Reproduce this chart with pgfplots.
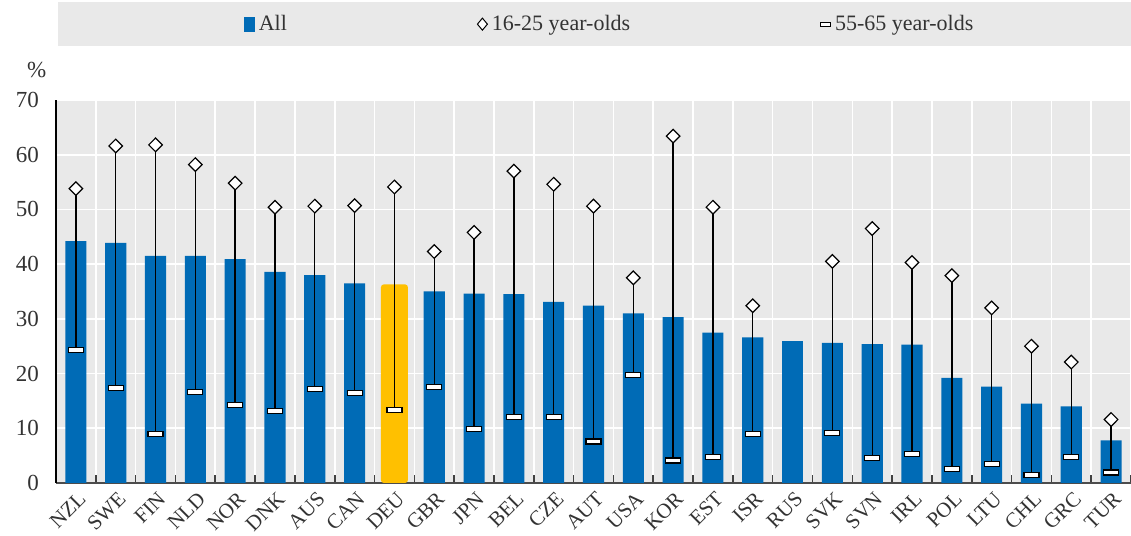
\documentclass[border=0pt]{standalone}
\usepackage{fontspec}
\setmainfont{Liberation Serif}
\usepackage{pgfplots}
\usepackage{pgfplotstable}
\pgfplotsset{compat=1.18}
\definecolor{oblue}{HTML}{006BB6}
\definecolor{oyellow}{HTML}{FFC000}
\definecolor{obg}{HTML}{E9E9E9}
\definecolor{otext}{HTML}{333333}

\pgfplotstableread{
x all hi lo
0 44.2 53.8 24.3
1 43.9 61.6 17.4
2 41.5 61.8 9.0
3 41.5 58.2 16.7
4 40.9 54.8 14.3
5 38.6 50.4 13.2
6 38.0 50.6 17.2
7 36.5 50.7 16.5
9 35.0 42.3 17.6
10 34.6 45.8 9.9
11 34.5 57.0 12.1
12 33.1 54.6 12.1
13 32.4 50.6 7.6
14 31.0 37.5 19.7
15 30.3 63.4 4.1
16 27.5 50.4 4.8
17 26.6 32.4 9.0
19 25.6 40.5 9.2
20 25.4 46.5 4.6
21 25.3 40.3 5.3
22 19.2 37.9 2.5
23 17.6 32.0 3.5
24 14.5 25.0 1.5
25 14.0 22.1 4.8
26 7.8 11.6 1.9
}\datatab

\pgfplotstableread{
x all
18 25.9
}\rustab

\pgfplotstableread{
x all hi lo
8 36.3 54.1 13.4
}\deutab

\begin{document}
\begin{tikzpicture}
\begin{axis}[
  scale only axis,
  width=537.5pt, height=191.5pt,
  xmin=-0.5, xmax=26.5,
  ymin=0, ymax=70,
  ytick={0,10,...,70},
  xtick={0,...,26},
  xticklabels={NZL,SWE,FIN,NLD,NOR,DNK,AUS,CAN,DEU,GBR,JPN,BEL,CZE,AUT,USA,KOR,EST,ISR,RUS,SVK,SVN,IRL,POL,LTU,CHL,GRC,TUR},
  minor xtick={-0.5,0.5,...,26.5},
  x tick label style={rotate=45, anchor=north east, font=\fontsize{10.5}{12}\selectfont, text=otext, inner sep=1pt, xshift=-1pt, yshift=-2pt},
  y tick label style={font=\fontsize{11.5}{12}\selectfont, text=otext, xshift=-5pt},
  /pgf/number format/assume math mode=true,
  major x tick style={draw=none},
  minor x tick style={draw=black!75, thick},
  minor tick length=4pt,
  ytick style={draw=none},
  xmajorgrids=false, xminorgrids=true, ymajorgrids=true,
  grid style={white, line width=0.8pt},
  minor grid style={white, line width=0.8pt},
  axis background/.style={fill=obg},
  axis x line*=bottom, axis y line*=left,
  x axis line style={draw=black!70, line width=0.8pt, -},
  y axis line style={draw=black, line width=0.6pt, -},
  tick align=inside,
  clip=false,
  legend style={at={(rel axis cs:0.516,1.198)}, anchor=center, draw=none, fill=none,
    font=\fontsize{11}{12}\selectfont, text=otext, legend columns=3,
    /tikz/every even column/.append style={column sep=93pt}},
  legend cell align=left,
]
\fill[obg] (rel axis cs:0.002,1.141) rectangle (rel axis cs:1,1.256);
\node[text=otext, font=\fontsize{11.5}{12}\selectfont] at (rel axis cs:-0.018,1.078) {\%};

\addplot[ybar, bar width=0.53, fill=oblue, draw=none, forget plot] table[x=x, y=all] {\datatab};
\addplot[ybar, bar width=0.53, fill=oblue, draw=none, forget plot] table[x=x, y=all] {\rustab};
\addplot[ybar, bar width=0.68, fill=oyellow, draw=none, rounded corners=1.5pt, forget plot] table[x=x, y=all] {\deutab};

\addplot[draw=none, mark=none, forget plot,
  error bars/.cd, y dir=plus, y explicit,
  error bar style={black, line width=0.7pt}, error mark=none]
  table[x=x, y=lo, y error plus expr=\thisrow{hi}-\thisrow{lo}] {\datatab};
\addplot[draw=none, mark=none, forget plot,
  error bars/.cd, y dir=plus, y explicit,
  error bar style={black, line width=0.7pt}, error mark=none]
  table[x=x, y=lo, y error plus expr=\thisrow{hi}-\thisrow{lo}] {\deutab};

\addplot[only marks, mark=diamond*, mark size=3.4pt, mark options={fill=white, draw=black, line width=0.6pt, xscale=1.33}, forget plot]
  table[x=x, y=hi] {\datatab};
\addplot[only marks, mark=diamond*, mark size=3.4pt, mark options={fill=white, draw=black, line width=0.6pt, xscale=1.33}, forget plot]
  table[x=x, y=hi] {\deutab};
\addplot[only marks, mark=square*, mark size=2.5pt, mark options={fill=white, draw=black, line width=0.6pt, xscale=1.5, yscale=0.5}, forget plot]
  table[x=x, y=lo] {\datatab};
\addplot[only marks, mark=square*, mark size=2.5pt, mark options={fill=white, draw=black, line width=0.6pt, xscale=1.5, yscale=0.5}, forget plot]
  table[x=x, y=lo] {\deutab};

\addlegendimage{legend image code/.code={\fill[oblue] (0pt,-3.5pt) rectangle (5pt,3.5pt);}}
\addlegendentry{All}
\addlegendimage{legend image code/.code={\draw[black, fill=white, line width=0.5pt] (2.5pt,-3pt) -- (5pt,0pt) -- (2.5pt,3pt) -- (0pt,0pt) -- cycle;}}
\addlegendentry{16-25 year-olds}
\addlegendimage{legend image code/.code={\draw[black, fill=white, line width=0.5pt] (0pt,-1pt) rectangle (5pt,1pt);}}
\addlegendentry{55-65 year-olds}
\end{axis}
\pgfresetboundingbox
\path[use as bounding box] ([shift={(-28pt,-26.5pt)}]current axis.south west) rectangle ([shift={(0pt,50pt)}]current axis.north east);
\end{tikzpicture}
\end{document}
